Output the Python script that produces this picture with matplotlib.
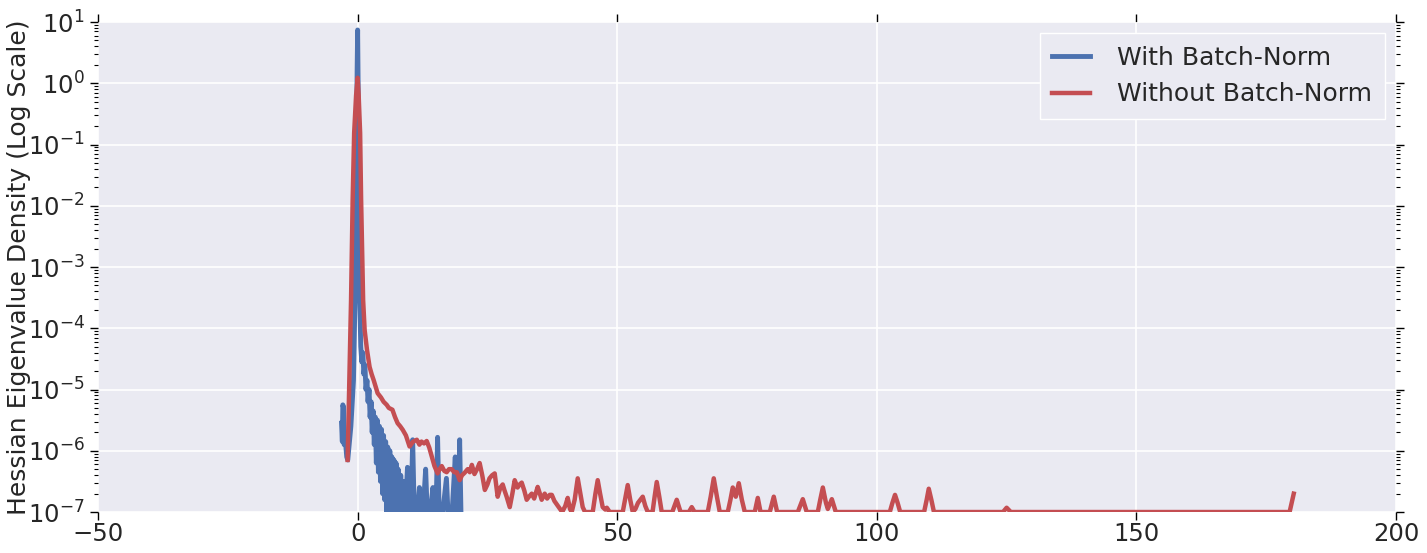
import numpy as np
import matplotlib
matplotlib.use("Agg")
import matplotlib.pyplot as plt
from matplotlib.ticker import LogLocator, NullFormatter

# eigenvalue grid and log10 density
bn_x = [-3.1, -2.95, -2.85, -2.7, -2.6, -2.4, -2.1, -1.9, -1.3, -0.8, -0.5, -0.3, -0.1, 0.0,
        0.15, 0.25, 0.4, 0.6, 0.8, 1.0, 1.2, 1.4, 1.6, 1.8, 2.0, 2.2, 2.4, 2.6, 2.8, 3.0,
        3.2, 3.4, 3.6, 3.8, 4.0, 4.2, 4.4, 4.6, 4.8, 5.0, 5.2, 5.4, 5.6, 5.8, 6.0, 6.2,
        6.4, 6.6, 6.8, 7.0, 7.2, 7.4, 7.6, 7.8, 8.0, 8.3, 8.6, 8.9, 9.2, 9.6, 9.9, 10.3,
        10.6, 10.9, 11.5, 11.9, 12.2, 12.6, 13.1, 13.4, 14.0, 14.5, 14.8, 15.1, 15.4, 15.7,
        16.4, 17.1, 17.4, 18.2, 18.8, 19.1, 19.4, 19.65, 19.9]
bn_log = [-5.55, -5.85, -5.25, -5.3, -5.9, -5.8, -6.1, -6.15, -5.6, -4.85, -3.5, -1.9, 0.2, 0.87,
          -0.5, -1.9, -3.5, -4.3, -4.55, -4.4, -4.75, -4.6, -5.0, -4.85, -5.2, -5.0, -5.45, -5.2, -5.7, -5.35,
          -5.9, -5.45, -6.2, -5.5, -6.35, -5.6, -6.5, -5.65, -6.7, -5.75, -6.8, -5.85, -7.0, -5.94, -6.9, -6.0,
          -7.0, -6.1, -7.0, -6.15, -7.0, -6.2, -7.0, -6.3, -7.0, -6.4, -7.0, -6.5, -7.0, -6.27, -7.0, -7.0,
          -5.82, -7.0, -7.0, -6.6, -7.0, -7.0, -6.3, -7.0, -7.0, -6.6, -7.0, -7.0, -5.78, -7.0,
          -7.0, -6.45, -7.0, -7.0, -6.1, -7.0, -7.0, -5.82, -7.0]

nobn_x = [-1.93, -1.27, -0.96, -0.67, -0.3, 0.0, 0.2, 0.48, 0.67, 1.06, 1.35, 1.8, 2.3, 2.7, 3.1,
          3.85, 4.5, 5.0, 5.6, 6.0, 6.7, 7.2, 7.7, 8.2, 8.7, 9.3, 10.0, 10.7, 11.4, 11.9, 12.3,
          12.8, 13.3, 13.8, 14.3, 14.8, 15.4, 15.8, 16.2, 16.7, 17.15, 17.6, 18.1, 18.6, 19.1,
          19.65, 20.1, 20.6, 21.2, 21.6, 22.0, 22.5, 23.0, 23.5, 24.0, 24.5, 25.0, 25.4, 25.9,
          26.4, 26.97, 27.5, 27.94, 28.3, 28.7, 29.3, 29.8, 30.25, 30.8, 31.2, 31.6, 32.1, 32.56,
          33.0, 33.53, 34.0, 34.68, 35.1, 35.45, 36.03, 36.5, 37.0, 37.4, 37.9, 38.4, 39.0, 39.4,
          40.0, 40.46, 40.9, 41.23, 41.8, 42.39, 42.9, 43.35, 43.8, 45.28, 45.8, 46.24, 46.7,
          47.2, 47.7, 48.0, 48.55, 51.06, 51.5, 52.02, 52.5, 52.99, 53.5, 54.0, 54.91, 55.4,
          55.88, 56.8, 57.2, 57.61, 58.1, 58.57, 60.6, 61.46, 62.2, 63.8, 64.35, 64.9, 67.44,
          68.0, 68.59, 69.2, 69.75, 71.29, 71.8, 72.25, 72.83, 73.41, 74.0, 74.57, 76.49, 77.07,
          77.6, 79.38, 80.15, 80.8, 84.78, 85.74, 86.5, 88.63, 89.1, 89.6, 90.2, 90.56, 91.33,
          92.1, 102.5, 103.0, 103.5, 104.0, 104.5, 109.1, 109.6, 110.0, 110.5, 111.0, 124.3,
          125.0, 125.8, 179.5, 180.3]
nobn_log = [-6.15, -3.54, -1.9, -0.81, -0.2, 0.09, -0.2, -0.81, -1.9, -3.54, -4.03, -4.35, -4.63, -4.75, -4.85,
            -5.06, -5.13, -5.2, -5.25, -5.3, -5.33, -5.45, -5.55, -5.6, -5.66, -5.75, -5.93, -5.85, -5.82, -5.9, -5.85,
            -5.88, -5.84, -5.95, -6.1, -6.25, -6.37, -6.3, -6.25, -6.33, -6.35, -6.3, -6.3, -6.35, -6.35,
            -6.48, -6.4, -6.36, -6.3, -6.35, -6.23, -6.38, -6.3, -6.2, -6.4, -6.64, -6.55, -6.45, -6.4,
            -6.37, -6.75, -6.6, -6.55, -6.65, -6.75, -6.92, -6.7, -6.48, -6.6, -6.55, -6.52, -6.65, -6.8,
            -6.75, -6.7, -6.78, -6.59, -6.7, -6.8, -6.7, -6.78, -6.72, -6.72, -6.82, -6.88, -6.95, -7.0,
            -6.9, -6.77, -6.95, -7.0, -6.8, -6.45, -6.7, -6.92, -7.0, -7.0, -6.7, -6.48, -6.7,
            -6.92, -6.96, -6.93, -7.0, -7.0, -6.8, -6.56, -6.8, -7.0, -6.95, -6.85, -6.75, -6.9,
            -7.0, -7.0, -6.75, -6.51, -6.75, -7.0, -7.0, -6.8, -7.0, -7.0, -6.92, -7.0, -7.0,
            -6.75, -6.45, -6.75, -7.0, -7.0, -6.8, -6.6, -6.75, -6.53, -6.8, -7.0, -7.0, -6.77,
            -7.0, -7.0, -6.75, -7.0, -7.0, -6.79, -7.0, -7.0, -6.8, -6.6, -6.85, -6.95, -6.79,
            -7.0, -7.0, -6.85, -6.72, -6.85, -7.0, -7.0, -6.8, -6.62, -6.8, -7.0, -7.0,
            -6.93, -7.0, -7.0, -6.7]

labels = ["With Batch-Norm", "Without Batch-Norm"]
colors = ["#4C72B0", "#C44E52"]

plt.rcParams['font.family'] = ['DejaVu Sans']
plt.rcParams['text.color'] = '#262626'
plt.rcParams['axes.labelcolor'] = '#262626'
plt.rcParams['xtick.color'] = '#262626'
plt.rcParams['ytick.color'] = '#262626'

fig = plt.figure(figsize=(14.27, 5.53), dpi=100)
ax = fig.add_axes([0.0687, 0.0741, 0.9096, 0.8861])
ax.set_facecolor('#EAEAF2')
for s in ax.spines.values():
    s.set_visible(False)
ax.grid(True, which='major', color='white', linewidth=1.2)
ax.set_axisbelow(True)

ax.plot(bn_x, 10.0 ** np.array(bn_log), color=colors[0], lw=3.5, label=labels[0])
ax.plot(nobn_x, 10.0 ** np.array(nobn_log), color=colors[1], lw=3.2, label=labels[1])

ax.set_yscale('log')
ax.set_ylim(1e-7, 1e1)
ax.set_xlim(-50, 200)
ax.set_xticks([-50, 0, 50, 100, 150, 200])
ax.yaxis.set_major_locator(LogLocator(base=10, numticks=20))
ax.yaxis.set_minor_locator(LogLocator(base=10, subs=np.arange(2, 10), numticks=20))
ax.yaxis.set_minor_formatter(NullFormatter())

ax.set_ylabel("Hessian Eigenvalue Density (Log Scale)", fontsize=18)
ax.yaxis.set_label_coords(-0.0516, 0.5)

ax.tick_params(which='both', direction='out', top=True, right=True, labelsize=17.5,
               color='black')
ax.tick_params(which='major', length=6, width=1)
ax.tick_params(axis='x', which='major', pad=1)
ax.tick_params(which='minor', length=3, width=0.8)

leg = ax.legend(loc='upper right', fontsize=18, frameon=True, fancybox=False,
                handlelength=1.5, handletextpad=1.1, borderpad=0.5,
                borderaxespad=0.45)
leg.get_frame().set_facecolor('#EAEAF2')
leg.get_frame().set_edgecolor('white')
leg.get_frame().set_alpha(1)

fig.savefig("out.png", dpi=100)
